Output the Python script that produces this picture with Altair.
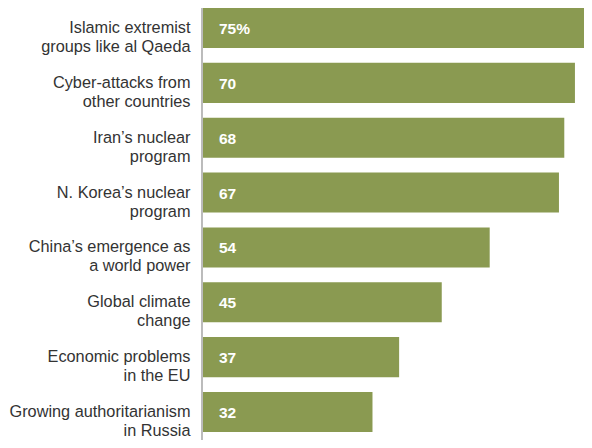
import altair as alt
import pandas as pd

line1 = ["Islamic extremist", "Cyber-attacks from", "Iran\u2019s nuclear", "N. Korea\u2019s nuclear",
         "China\u2019s emergence as", "Global climate", "Economic problems", "Growing authoritarianism"]
line2 = ["groups like al Qaeda", "other countries", "program", "program",
         "a world power", "change", "in the EU", "in Russia"]
values = [75, 70, 68, 67, 54, 45, 37, 32]
value_labels = ["75%", "70", "68", "67", "54", "45", "37", "32"]

cats = [a + "|" + b for a, b in zip(line1, line2)]
df = pd.DataFrame({"cat": cats, "value": values, "lbl": value_labels})

W = 382
H = 424
color = "#8a9a51"

y = alt.Y("cat:N", sort=None, title=None,
          scale=alt.Scale(paddingInner=0.27, paddingOuter=0),
          axis=alt.Axis(labelExpr="split(datum.label, '|')", labelAlign="right",
                        labelBaseline="middle", labelFont="Liberation Sans",
                        labelFontSize=16.3, labelColor="#333333", labelLineHeight=19,
                        labelPadding=12, ticks=False, domain=False, labelLimit=300))

x = alt.X("value:Q", scale=alt.Scale(domain=[0, 71.7], nice=False), axis=None)

bars = alt.Chart(df).mark_bar(color=color, clip=True).encode(x=x, y=y)

txt = alt.Chart(df).mark_text(align="left", baseline="middle", dx=17, dy=1, color="white",
                              font="Liberation Sans", fontWeight="bold", fontSize=15.5).encode(
    x=alt.value(0), y=alt.Y("cat:N", sort=None), text="lbl:N")

rule = alt.Chart(df).mark_rule(color="#bbbbbb", strokeWidth=1).encode(
    x=alt.value(0), y=alt.value(-8), y2=alt.value(H + 8))

chart = alt.layer(bars, txt, rule).properties(
    width=W, height=H,
    autosize=alt.AutoSizeParams(type="none"),
    padding={"left": 194, "top": 0, "right": 0, "bottom": 8},
).configure_view(stroke=None)

chart.save("out.html", embed_options={"renderer": "svg", "actions": False})
